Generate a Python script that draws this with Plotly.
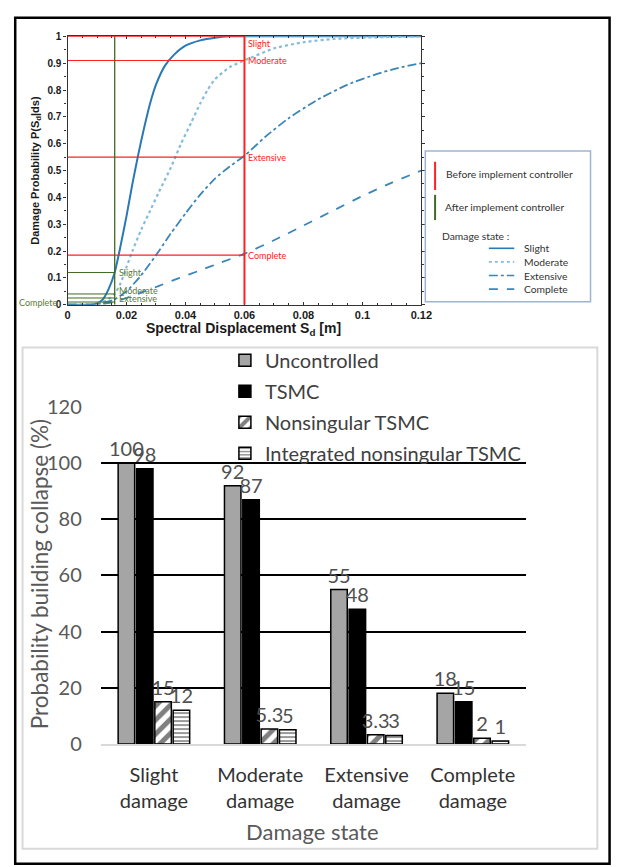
import plotly.graph_objects as go

W, H = 624, 867


def px(x):
    return x / W


def py(y):
    return 1 - y / H


# ---------------- fragility curves (upper panel) ----------------
slight_x = [0, 0.008, 0.010, 0.012, 0.014, 0.016, 0.018, 0.020, 0.022, 0.024, 0.026, 0.028,
            0.030, 0.033, 0.036, 0.040, 0.045, 0.050, 0.055, 0.060, 0.080, 0.100, 0.120]
slight_y = [0, 0, 0.005, 0.02, 0.06, 0.12, 0.22, 0.33, 0.45, 0.56, 0.66, 0.75,
            0.82, 0.89, 0.93, 0.965, 0.985, 0.995, 1.0, 1.0, 1.0, 1.0, 1.0]

moderate_x = [0, 0.008, 0.010, 0.012, 0.014, 0.016, 0.018, 0.020, 0.022, 0.025, 0.028, 0.031,
              0.035, 0.0385, 0.042, 0.045, 0.0475, 0.050, 0.055, 0.060, 0.070, 0.080, 0.090,
              0.100, 0.120]
moderate_y = [0, 0, 0.003, 0.01, 0.022, 0.04, 0.08, 0.14, 0.2, 0.28, 0.35, 0.42,
              0.51, 0.6, 0.68, 0.75, 0.8, 0.84, 0.885, 0.91, 0.955, 0.978, 0.99,
              0.995, 1.0]

extensive_x = [0, 0.008, 0.010, 0.012, 0.014, 0.016, 0.020, 0.025, 0.031, 0.035, 0.040,
               0.045, 0.050, 0.055, 0.060, 0.067, 0.075, 0.085, 0.095, 0.105, 0.112, 0.120]
extensive_y = [0, 0, 0.002, 0.006, 0.012, 0.02, 0.05, 0.11, 0.2, 0.265, 0.34,
               0.41, 0.47, 0.515, 0.555, 0.625, 0.695, 0.765, 0.82, 0.86, 0.882, 0.9]

complete_x = [0, 0.008, 0.012, 0.016, 0.020, 0.025, 0.031, 0.038, 0.045, 0.052, 0.060,
              0.070, 0.080, 0.090, 0.100, 0.110, 0.120]
complete_y = [0, 0, 0.003, 0.01, 0.025, 0.045, 0.07, 0.1, 0.128, 0.157, 0.19,
              0.24, 0.295, 0.35, 0.405, 0.455, 0.5]

curve_names = ["Slight", "Moderate", "Extensive", "Complete"]
curve_colors = ["#2a78b4", "#86bcdb", "#3a86b9", "#3a86b9"]
curve_dashes = ["solid", "dot", "dashdot", "dash"]
curve_widths = [2.0, 2.2, 1.8, 1.8]

# read-off levels before / after the controller
before_sd = 0.06
before_levels = [1.0, 0.91, 0.55, 0.185]
after_sd = 0.016
after_levels = [0.12, 0.04, 0.025, 0.01]

# ---------------- bar chart (lower panel) ----------------
damage_states = ["Slight damage", "Moderate damage", "Extensive damage", "Complete damage"]
state_ticks = ["Slight<br>damage", "Moderate<br>damage", "Extensive<br>damage", "Complete<br>damage"]
uncontrolled = [100, 92, 55, 18]
tsmc = [98, 87, 48, 15]
nonsingular_tsmc = [15, 5.3, 3.3, 2]
integrated_tsmc = [12, 5, 3, 1]
y_ticks = [0, 20, 40, 60, 80, 100, 120]

fig = go.Figure()

curves = [(slight_x, slight_y), (moderate_x, moderate_y),
          (extensive_x, extensive_y), (complete_x, complete_y)]
for (cx, cy), name, col, dash, lw in zip(curves, curve_names, curve_colors,
                                         curve_dashes, curve_widths):
    fig.add_trace(go.Scatter(
        x=cx, y=cy, mode="lines", name=name, showlegend=False,
        line=dict(color=col, dash=dash, width=lw, shape="spline", smoothing=0.6),
        xaxis="x", yaxis="y", hoverinfo="skip"))

bar_line = dict(color="black", width=1.5)
fig.add_trace(go.Bar(
    x=damage_states, y=uncontrolled, name="Uncontrolled", legendgroup="a",
    marker=dict(color="#a5a5a5", line=bar_line),
    text=[str(v) for v in uncontrolled], xaxis="x2", yaxis="y2"))
fig.add_trace(go.Bar(
    x=damage_states, y=tsmc, name="TSMC", legendgroup="b",
    marker=dict(color="black", line=bar_line),
    text=[str(v) for v in tsmc], xaxis="x2", yaxis="y2"))
fig.add_trace(go.Bar(
    x=damage_states, y=nonsingular_tsmc, name="Nonsingular TSMC", legendgroup="c",
    marker=dict(color="white", line=bar_line,
                pattern=dict(shape="/", fgcolor="black", bgcolor="white",
                             size=10, solidity=0.5)),
    text=[str(v) for v in nonsingular_tsmc], xaxis="x2", yaxis="y2"))
fig.add_trace(go.Bar(
    x=damage_states, y=integrated_tsmc, name="Integrated nonsingular TSMC", legendgroup="d",
    marker=dict(color="white", line=bar_line,
                pattern=dict(shape="-", fgcolor="black", bgcolor="white",
                             size=4, solidity=0.4)),
    text=[str(v) for v in integrated_tsmc], xaxis="x2", yaxis="y2"))

fig.update_traces(selector=dict(type="bar"), textposition="outside",
                  constraintext="none", cliponaxis=False,
                  textfont=dict(family="Lato", size=20, color="#505050"),
                  hoverinfo="skip")

shapes = []
annotations = []

# outer frame and lower panel box
shapes.append(dict(type="rect", xref="paper", yref="paper",
                   x0=px(12.5), x1=px(620.5), y0=py(875), y1=py(5),
                   line=dict(color="black", width=2.5)))
shapes.append(dict(type="rect", xref="paper", yref="paper",
                   x0=px(20), x1=px(608), y0=py(859.5), y1=py(344),
                   line=dict(color="#d9d9d9", width=2)))

# red reference lines (before controller)
red = "#ff2020"
shapes.append(dict(type="line", xref="x", yref="y", x0=before_sd, x1=before_sd, y0=0, y1=1,
                   line=dict(color=red, width=2)))
for lv, nm in zip(before_levels, curve_names):
    shapes.append(dict(type="line", xref="x", yref="y", x0=0, x1=before_sd, y0=lv, y1=lv,
                       line=dict(color=red, width=1.2)))
    annotations.append(dict(xref="x", yref="y", x=before_sd, y=lv, text=nm,
                            xanchor="left", yanchor="top" if lv >= 0.99 else "middle",
                            xshift=2, showarrow=False,
                            font=dict(family="Lato", size=9, color=red)))

# green reference lines (after controller)
green = "#3f6b26"
green_txt = "#5b7c34"
shapes.append(dict(type="line", xref="x", yref="y", x0=after_sd, x1=after_sd, y0=0, y1=1,
                   line=dict(color=green, width=1.3)))
for lv in after_levels:
    shapes.append(dict(type="line", xref="x", yref="y", x0=0, x1=after_sd, y0=lv, y1=lv,
                       line=dict(color=green, width=1)))
green_label_y = [0.12, 0.052, 0.022]
for lv, nm in zip(green_label_y, curve_names[:3]):
    annotations.append(dict(xref="x", yref="y", x=after_sd, y=lv, text=nm,
                            xanchor="left", yanchor="middle", xshift=2, showarrow=False,
                            font=dict(family="Lato", size=9, color=green_txt)))
annotations.append(dict(xref="paper", yref="paper", x=px(58), y=py(298), text="Complete",
                        xanchor="right", yanchor="middle", showarrow=False,
                        font=dict(family="Lato", size=9, color=green_txt)))

# upper panel legend box
shapes.append(dict(type="rect", xref="paper", yref="paper",
                   x0=px(432), x1=px(601), y0=py(297), y1=py(142),
                   line=dict(color="#9db5d3", width=1.5)))
shapes.append(dict(type="line", xref="paper", yref="paper",
                   x0=px(442), x1=px(442), y0=py(182), y1=py(153),
                   line=dict(color=red, width=2)))
shapes.append(dict(type="line", xref="paper", yref="paper",
                   x0=px(442), x1=px(442), y0=py(213), y1=py(187),
                   line=dict(color=green, width=2)))
legend_txt = dict(family="Lato", size=10.3, color="#333333")
annotations.append(dict(xref="paper", yref="paper", x=px(451), y=py(166),
                        text="Before implement controller", xanchor="left",
                        yanchor="middle", showarrow=False, font=legend_txt))
annotations.append(dict(xref="paper", yref="paper", x=px(450), y=py(200),
                        text="After implement controller", xanchor="left",
                        yanchor="middle", showarrow=False, font=legend_txt))
annotations.append(dict(xref="paper", yref="paper", x=px(447), y=py(229),
                        text="Damage state :", xanchor="left",
                        yanchor="middle", showarrow=False, font=legend_txt))
for i, (nm, col, dash) in enumerate(zip(curve_names, curve_colors, curve_dashes)):
    yy = 242 + 14 * i
    shapes.append(dict(type="line", xref="paper", yref="paper",
                       x0=px(497), x1=px(523), y0=py(yy), y1=py(yy),
                       line=dict(color=col, width=1.6, dash=dash)))
    annotations.append(dict(xref="paper", yref="paper", x=px(531), y=py(yy), text=nm,
                            xanchor="left", yanchor="middle", showarrow=False,
                            font=legend_txt))

# axis titles
annotations.append(dict(xref="paper", yref="paper", x=px(33), y=py(162),
                        text="<b>Damage Probability P(S<sub>d</sub>|ds)</b>", textangle=-90,
                        xanchor="center", yanchor="middle", showarrow=False,
                        font=dict(family="Liberation Sans", size=11, color="#1a1a1a")))
annotations.append(dict(xref="paper", yref="paper", x=px(246), y=py(325),
                        text="<b>Spectral Displacement S<sub>d</sub> [m]</b>",
                        xanchor="center", yanchor="middle", showarrow=False,
                        font=dict(family="Liberation Sans", size=14, color="#1a1a1a")))
annotations.append(dict(xref="paper", yref="paper", x=px(37), y=py(577),
                        text="Probability building collapse (%)", textangle=-90,
                        xanchor="center", yanchor="middle", showarrow=False,
                        font=dict(family="Lato", size=22.5, color="#595959")))
annotations.append(dict(xref="paper", yref="paper", x=px(317), y=py(842),
                        text="Damage state",
                        xanchor="center", yanchor="middle", showarrow=False,
                        font=dict(family="Lato", size=22, color="#595959")))

bold_ticks_x = ["0", "0.02", "0.04", "0.06", "0.08", "0.1", "0.12"]
bold_ticks_y = ["0", "0.1", "0.2", "0.3", "0.4", "0.5", "0.6", "0.7", "0.8", "0.9", "1"]
fig.update_layout(
    width=W, height=H, margin=dict(l=0, r=0, t=0, b=0),
    paper_bgcolor="white", plot_bgcolor="white",
    barmode="group", bargap=0.31, bargroupgap=0.1,
    xaxis=dict(domain=[px(66), px(428)], range=[0, 0.12], anchor="y",
               tickvals=[float(t) for t in bold_ticks_x],
               ticktext=["<b>%s</b>" % t for t in bold_ticks_x],
               showline=True, linecolor="#333333", linewidth=1.2, mirror="ticks",
               ticks="inside", ticklen=3, tickcolor="#333333",
               minor=dict(dtick=0.005, ticks="inside", ticklen=2, tickcolor="#333333"),
               showgrid=False, zeroline=False,
               tickfont=dict(family="Liberation Sans", size=11, color="#1a1a1a")),
    yaxis=dict(domain=[py(300), py(24)], range=[0, 1], anchor="x",
               tickvals=[float(t) for t in bold_ticks_y],
               ticktext=["<b>%s</b>" % t for t in bold_ticks_y],
               showline=True, linecolor="#333333", linewidth=1.2, mirror="ticks",
               ticks="outside", ticklen=3, tickcolor="#333333",
               minor=dict(dtick=0.05, ticks="outside", ticklen=2, tickcolor="#333333"),
               showgrid=False, zeroline=False,
               tickfont=dict(family="Liberation Sans", size=10, color="#1a1a1a")),
    xaxis2=dict(domain=[px(100), px(535)], anchor="y2", type="category",
                tickvals=damage_states, ticktext=state_ticks,
                showline=True, linecolor="#d9d9d9", linewidth=2,
                ticks="", showgrid=False, ticklabelstandoff=12,
                tickfont=dict(family="Lato", size=20, color="#333333")),
    yaxis2=dict(domain=[py(751.7), py(405.3)], anchor="x2", range=[0, 120],
                tickvals=y_ticks, showgrid=True, gridcolor="black", gridwidth=2,
                zeroline=False, showline=False, ticks="", ticklabelstandoff=18,
                tickfont=dict(family="Lato", size=20, color="#595959")),
    legend=dict(x=px(227), y=py(337), xanchor="left", yanchor="top",
                bgcolor="rgba(0,0,0,0)", tracegroupgap=2,
                font=dict(family="Lato", size=20, color="#404040")),
    shapes=shapes, annotations=annotations,
)

fig.write_html("out.html")
